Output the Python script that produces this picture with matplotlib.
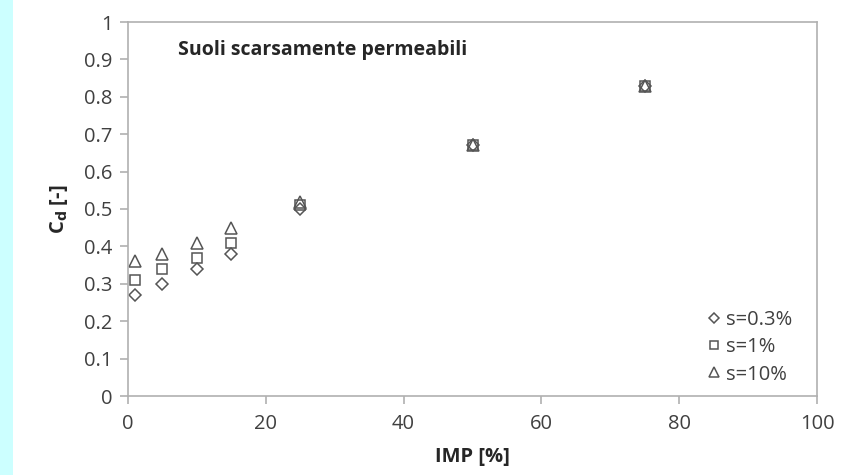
import matplotlib
matplotlib.use("Agg")
import matplotlib.pyplot as plt
from matplotlib.patches import Rectangle
from matplotlib.lines import Line2D

imp = [1, 5, 10, 15, 25, 50, 75]
cd_s03 = [0.27, 0.30, 0.34, 0.38, 0.50, 0.67, 0.83]
cd_s1 = [0.31, 0.34, 0.37, 0.41, 0.51, 0.67, 0.83]
cd_s10 = [0.36, 0.38, 0.41, 0.45, 0.52, 0.67, 0.83]
labels = ["s=0.3%", "s=1%", "s=10%"]
xticks = [0, 20, 40, 60, 80, 100]
yticks = [0, 0.1, 0.2, 0.3, 0.4, 0.5, 0.6, 0.7, 0.8, 0.9, 1]
ytick_labels = ["0", "0.1", "0.2", "0.3", "0.4", "0.5", "0.6", "0.7", "0.8", "0.9", "1"]

plt.rcParams['font.family'] = ['Open Sans', 'DejaVu Sans']

fig = plt.figure(figsize=(8.49, 4.75), dpi=100)
fig.patch.set_facecolor('white')
fig.patches.append(Rectangle((0, 0), 13/849, 1, transform=fig.transFigure,
                             facecolor='#ccffff', edgecolor='none', zorder=0))

ax = fig.add_axes([128/849, 1-396/475, (817-128)/849, (396-22)/475])
ec = '#555555'
styles = [('D', 6.5), ('s', 7.5), ('^', 8.5)]
for vals, lab, (mk, ms) in zip([cd_s03, cd_s1, cd_s10], labels, styles):
    ax.plot(imp, vals, linestyle='none', marker=mk, markersize=ms, markerfacecolor='none',
            markeredgecolor=ec, markeredgewidth=1.1, clip_on=False)

ax.set_xlim(0, 100)
ax.set_ylim(0, 1)
ax.set_xticks(xticks)
ax.set_xticklabels([str(v) for v in xticks])
ax.set_yticks(yticks)
ax.set_yticklabels(ytick_labels)
for s in ax.spines.values():
    s.set_color('#b0b0b0')
    s.set_linewidth(1.2)
ax.tick_params(axis='both', direction='out', length=6, width=1.2, color='#b0b0b0',
               labelsize=14.5, labelcolor='#404040', pad=5)
ax.tick_params(axis='x', pad=7)

ax.set_xlabel('IMP [%]', fontsize=14.5, fontweight='bold', color='#262626', labelpad=9)
ax.set_ylabel(r'C$_\mathbf{d}$ [-]', fontsize=14.5, fontweight='bold', color='#262626', labelpad=10)

ax.text(0.073, 0.925, 'Suoli scarsamente permeabili', transform=ax.transAxes,
        fontsize=14, fontweight='bold', color='#262626', ha='left', va='center')

handles = [Line2D([], [], linestyle='none', marker=mk, markersize=ms * 0.85, markerfacecolor='none',
                  markeredgecolor=ec, markeredgewidth=1.1) for mk, ms in styles]
leg = ax.legend(handles, labels, loc='lower right', bbox_to_anchor=(0.985, -0.007), frameon=False,
                fontsize=14.5, handlelength=0.5, handletextpad=0.35, labelspacing=0.35,
                borderaxespad=0.3)
for t in leg.get_texts():
    t.set_color('#404040')

fig.savefig('out.png', dpi=100)
